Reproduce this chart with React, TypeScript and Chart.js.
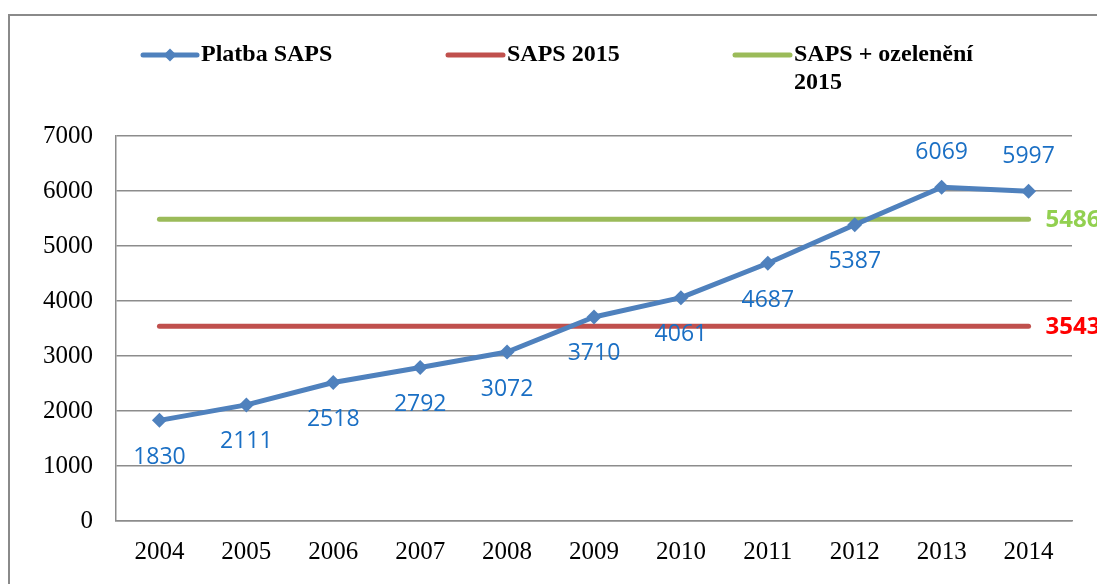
import { useEffect, useRef } from "react";
import { Chart, registerables } from "chart.js";

Chart.register(...registerables);

const years = ["2004", "2005", "2006", "2007", "2008", "2009", "2010", "2011", "2012", "2013", "2014"];
const platbaSaps = [1830, 2111, 2518, 2792, 3072, 3710, 4061, 4687, 5387, 6069, 5997];
const saps2015 = [3543, 3543, 3543, 3543, 3543, 3543, 3543, 3543, 3543, 3543, 3543];
const sapsOzeleneni2015 = [5486, 5486, 5486, 5486, 5486, 5486, 5486, 5486, 5486, 5486, 5486];
const seriesNames = ["Platba SAPS", "SAPS 2015", "SAPS + ozelenění\n2015"];
const labelsAboveYears = ["2013", "2014"];
const yMin = 0;
const yMax = 7000;
const yStep = 1000;

const BLUE = "#4F81BD";
const RED = "#C0504D";
const GREEN = "#9BBB59";
const GRID = "#8C8C8C";

const framePlugin = {
  id: "frame",
  beforeDraw(chart: any) {
    const ctx = chart.ctx;
    ctx.save();
    ctx.strokeStyle = "#8A8A8A";
    ctx.lineWidth = 2;
    ctx.beginPath();
    ctx.moveTo(9, chart.height);
    ctx.lineTo(9, 15);
    ctx.lineTo(chart.width, 15);
    ctx.stroke();
    ctx.restore();
  },
};

const legendPlugin = {
  id: "customLegend",
  afterDraw(chart: any) {
    const ctx = chart.ctx;
    const items = [
      { x0: 143, x1: 197, tx: 201 },
      { x0: 448, x1: 503, tx: 507 },
      { x0: 735, x1: 790, tx: 794 },
    ];
    const y = 55;
    ctx.save();
    chart.data.datasets.forEach((ds: any, i: number) => {
      const it = items[i];
      ctx.strokeStyle = ds.borderColor;
      ctx.lineWidth = 5;
      ctx.lineCap = "round";
      ctx.beginPath();
      ctx.moveTo(it.x0, y);
      ctx.lineTo(it.x1, y);
      ctx.stroke();
      if (i === 0) {
        ctx.fillStyle = ds.borderColor;
        const c = (it.x0 + it.x1) / 2;
        const r = 6.5;
        ctx.beginPath();
        ctx.moveTo(c, y - r);
        ctx.lineTo(c + r, y);
        ctx.lineTo(c, y + r);
        ctx.lineTo(c - r, y);
        ctx.closePath();
        ctx.fill();
      }
      ctx.fillStyle = "#000";
      ctx.font = "bold 24px 'Liberation Serif', 'Times New Roman', serif";
      ctx.textAlign = "left";
      ctx.textBaseline = "middle";
      const lines = String(ds.label).split("\n");
      lines.forEach((ln: string, k: number) => {
        ctx.fillText(ln, it.tx, y + k * 28);
      });
    });
    ctx.restore();
  },
};

const labelsPlugin = {
  id: "valueLabels",
  afterDatasetsDraw(chart: any) {
    const ctx = chart.ctx;
    ctx.save();
    const meta = chart.getDatasetMeta(0);
    ctx.font = "23px 'Open Sans', sans-serif";
    ctx.fillStyle = "#1A6FC4";
    ctx.textAlign = "center";
    ctx.textBaseline = "middle";
    meta.data.forEach((pt: any, i: number) => {
      const above = labelsAboveYears.includes(years[i]);
      ctx.fillText(String(platbaSaps[i]), pt.x, pt.y + (above ? -35 : 37));
    });
    const ends = [
      { ds: 1, color: "#FF0000", value: saps2015[saps2015.length - 1] },
      { ds: 2, color: "#92D050", value: sapsOzeleneni2015[sapsOzeleneni2015.length - 1] },
    ];
    ctx.font = "bold 24px 'Open Sans', sans-serif";
    ctx.textAlign = "left";
    ends.forEach((e) => {
      const m = chart.getDatasetMeta(e.ds);
      const last = m.data[m.data.length - 1];
      ctx.fillStyle = e.color;
      ctx.fillText(String(e.value), last.x + 17, last.y + 1);
    });
    ctx.restore();
  },
};

export default function App() {
  const ref = useRef<HTMLCanvasElement | null>(null);
  useEffect(() => {
    if (!ref.current) return;
    const chart = new Chart(ref.current, {
      type: "line",
      data: {
        labels: years,
        datasets: [
          {
            label: seriesNames[0],
            data: platbaSaps,
            borderColor: BLUE,
            backgroundColor: BLUE,
            borderWidth: 5,
            pointStyle: "rectRot",
            pointRadius: 7.5,
            pointBorderWidth: 0,
            pointBackgroundColor: BLUE,
            borderJoinStyle: "round",
            order: 0,
          },
          {
            label: seriesNames[1],
            data: saps2015,
            borderColor: RED,
            backgroundColor: RED,
            borderWidth: 5,
            pointRadius: 0,
            borderCapStyle: "round",
            order: 1,
          },
          {
            label: seriesNames[2],
            data: sapsOzeleneni2015,
            borderColor: GREEN,
            backgroundColor: GREEN,
            borderWidth: 5,
            pointRadius: 0,
            borderCapStyle: "round",
            order: 2,
          },
        ],
      },
      options: {
        animation: false,
        responsive: false,
        devicePixelRatio: 1,
        layout: { padding: { top: 136, right: 25, left: 0, bottom: 0 } },
        plugins: { legend: { display: false }, tooltip: { enabled: false } },
        scales: {
          x: {
            offset: true,
            grid: { display: true, drawOnChartArea: false, drawTicks: false },
            border: { display: true, color: GRID, width: 1.5 },
            ticks: {
              color: "#000",
              padding: 16,
              font: { family: "'Liberation Serif', 'Times New Roman', serif", size: 25 },
            },
            afterFit: (s: any) => {
              s.height = 63;
            },
          },
          y: {
            min: yMin,
            max: yMax,
            grid: { color: GRID, lineWidth: 1.5, drawTicks: false },
            border: { display: true, color: GRID, width: 1.5 },
            ticks: {
              stepSize: yStep,
              color: "#000",
              padding: 23,
              font: { family: "'Liberation Serif', 'Times New Roman', serif", size: 25 },
              callback: (v: any) => String(v),
            },
            afterFit: (s: any) => {
              s.width = 116;
            },
          },
        },
      },
      plugins: [framePlugin, legendPlugin, labelsPlugin],
    });
    return () => chart.destroy();
  }, []);
  return (
    <div style={{ position: "absolute", left: 0, top: 0, width: 1097, height: 584, background: "#fff" }}>
      <canvas ref={ref} width={1097} height={584} />
    </div>
  );
}
